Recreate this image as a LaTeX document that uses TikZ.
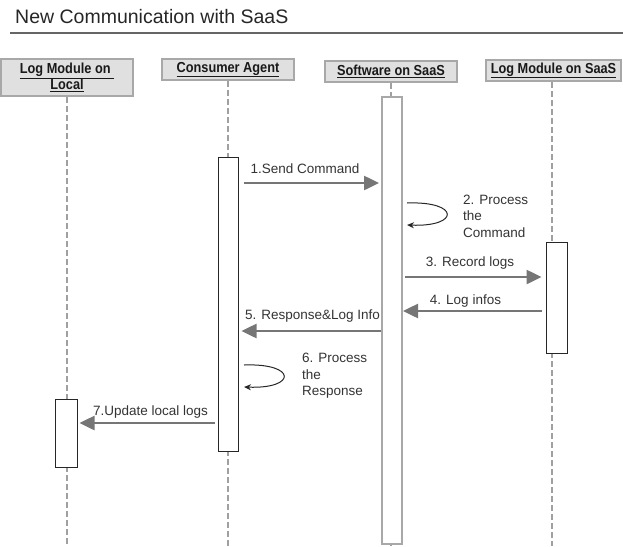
\documentclass[tikz,border=0pt]{standalone}
\usepackage{fontspec}
\setmainfont{Liberation Sans}
\newfontfamily\hdrfont[FakeStretch=0.88]{Liberation Sans}
\usetikzlibrary{arrows.meta,calc}
\definecolor{hdrfill}{HTML}{E0E0E0}
\definecolor{hdrdraw}{HTML}{A8A8A8}
\definecolor{msgcol}{HTML}{767676}
\definecolor{lifecol}{HTML}{A0A0A0}
\definecolor{txtcol}{HTML}{333333}
\begin{document}
\begin{tikzpicture}[x=1pt,y=-1pt,
  hdr/.style={draw=hdrdraw, line width=2pt, fill=hdrfill, inner sep=0pt, align=center,
    font=\hdrfont\fontsize{14.5}{15.5}\selectfont\bfseries, text=black!90},
  act/.style={draw=black!85, line width=1pt, fill=white, inner sep=0pt},
  lifeline/.style={draw=lifecol, line width=1.5pt, dash pattern=on 6pt off 3pt},
  msg/.style={draw=msgcol, line width=2.5pt, -{Triangle[length=15pt,width=14pt]}},
  selfmsg/.style={draw=black!85, line width=1pt, -{Stealth[length=7pt,width=6pt]}},
  lbl/.style={font=\fontsize{13.5}{16.5}\selectfont, text=txtcol, inner sep=0pt}]
\useasboundingbox (0,0) rectangle (623,546);
% title
\node[anchor=base west, font=\fontsize{19.5}{22}\selectfont, text=black!85, inner sep=0pt] (title) at (15,23.3) {New Communication with SaaS};
\coordinate (rulestart) at (10,33);
\coordinate (ruleend) at (623,33);
\draw[draw=black!60, line width=1.2pt] (rulestart) -- (ruleend);
% headers
\node[hdr, minimum width=132pt, minimum height=37pt] (h1) at (67,77.5) {\underline{Log Module on\ }\\\underline{Local}};
\node[hdr, minimum width=132pt, minimum height=21pt] (h2) at (228,69.5) {\underline{Consumer Agent}};
\node[hdr, minimum width=132pt, minimum height=21pt] (h3) at (391,71.5) {\underline{Software on SaaS}};
\node[hdr, minimum width=135pt, minimum height=21pt] (h4) at (553.5,70.5) {\underline{Log Module on SaaS}};
% lifelines
\coordinate (bottom) at (0,546);
\coordinate (l4x) at (552,0);
\draw[lifeline] (h1.south) -- (h1.south |- bottom);
\draw[lifeline] (h2.south) -- (h2.south |- bottom);
\draw[lifeline] (h3.south) -- (h3.south |- bottom);
\draw[lifeline] (l4x |- h4.south) -- (l4x |- bottom);
% activations
\node[act, minimum width=22pt, minimum height=68pt] (aL) at (66,433) {};
\node[act, minimum width=20pt, minimum height=294pt] (aC) at (228,304) {};
\node[act, draw=hdrdraw, line width=2pt, minimum width=20pt, minimum height=447pt] (aS) at (392,320) {};
\node[act, minimum width=21pt, minimum height=111pt] (aLS) at (556.5,297.5) {};
% message rows
\coordinate (y1) at (0,183);
\coordinate (y3) at (0,277);
\coordinate (y4) at (0,311);
\coordinate (y5) at (0,331);
\coordinate (y7) at (0,423);
\draw[msg, shorten <=5pt, shorten >=2pt] (aC.east |- y1) -- (aS.west |- y1);
\draw[msg, shorten <=2pt, shorten >=4pt] (aS.east |- y3) -- (aLS.west |- y3);
\draw[msg, shorten <=4pt, shorten >=0pt] (aLS.west |- y4) -- (aS.east |- y4);
\draw[msg, shorten <=0pt, shorten >=3pt] (aS.west |- y5) -- (aC.east |- y5);
\draw[msg, shorten <=3pt, shorten >=2pt] (aC.west |- y7) -- (aL.east |- y7);
% self messages
\coordinate (p2s) at (407,203);
\coordinate (p2e) at (407,225);
\draw[selfmsg] (p2s) .. controls (460,201) and (460,227) .. (p2e);
\coordinate (p6s) at (244,365);
\coordinate (p6e) at (244,387);
\draw[selfmsg] (p6s) .. controls (297,363) and (297,389) .. (p6e);
% labels
\node[lbl] (t1) at (305,169) {1.Send Command};
\node[lbl, anchor=west, align=left] (t2) at (463,216) {2. Process\\the\\Command};
\node[lbl] (t3) at (470,263) {3. Record logs};
\node[lbl] (t4) at (465.5,301) {4. Log infos};
\node[lbl] (t5) at (312.5,316) {5. Response\&Log Info};
\node[lbl, anchor=west, align=left] (t6) at (302,376) {6. Process\\the\\Response};
\node[lbl] (t7) at (150.5,412) {7.Update local logs};
\end{tikzpicture}
\end{document}
